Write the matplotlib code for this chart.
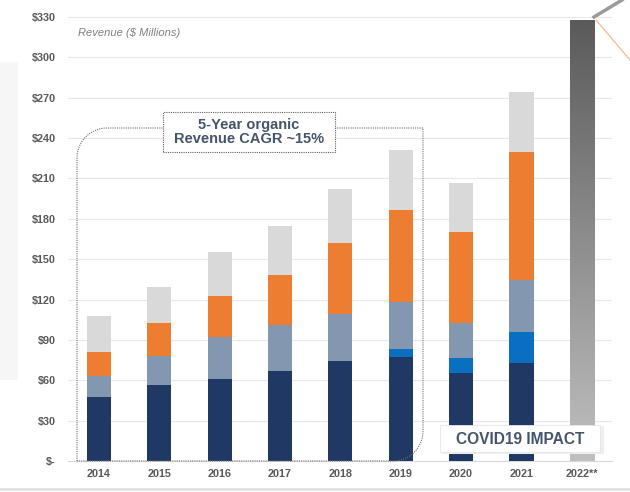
import numpy as np
import math
import matplotlib
matplotlib.use("Agg")
import matplotlib.pyplot as plt
from matplotlib.patches import Rectangle
from matplotlib.lines import Line2D

plt.rcParams['font.family'] = ['Liberation Sans', 'DejaVu Sans']

years = ["2014", "2015", "2016", "2017", "2018", "2019", "2020", "2021", "2022**"]
navy   = [47.8, 56.5, 61.2, 66.9, 74.4, 77.3, 65.6, 72.6, 0]
blue   = [0,    0,    0,    0,    0,    5.9,  11.2, 23.0, 0]
slate  = [15.6, 21.5, 31.0, 34.1, 34.9, 34.8, 25.5, 38.9, 0]
orange = [17.4, 24.3, 30.4, 37.2, 52.7, 68.5, 67.7, 95.2, 0]
lgray  = [27.0, 27.0, 32.7, 36.5, 40.0, 44.5, 36.6, 44.8, 0]
forecast = [0, 0, 0, 0, 0, 0, 0, 0, 327.8]

yticks = [0, 30, 60, 90, 120, 150, 180, 210, 240, 270, 300, 330]
ytick_labels = ["$-", "$30", "$60", "$90", "$120", "$150", "$180", "$210", "$240", "$270", "$300", "$330"]

C_NAVY = "#203864"
C_BLUE = "#0b6fc1"
C_SLATE = "#8497b0"
C_ORANGE = "#ed7d31"
C_LGRAY = "#d9d9d9"

fig = plt.figure(figsize=(6.3, 4.92), dpi=100)
fig.patch.set_facecolor("white")

# background decoration (screenshot card)
fig.patches.append(Rectangle((0, 1 - 380/492), 18/630, (380-62)/492, transform=fig.transFigure,
                             facecolor="#f6f6f6", edgecolor="none", zorder=0))
fig.lines.append(Line2D([0, 1], [1 - 489/492, 1 - 489/492], transform=fig.transFigure,
                        color="#e2e2e2", lw=2, zorder=0))
fig.lines.append(Line2D([594/630, 622/630], [1 - 17/492, 1.0], transform=fig.transFigure,
                        color="#9a9a9a", lw=2.5, zorder=5))
fig.lines.append(Line2D([596/630, 630/630], [1 - 20/492, 1 - 60/492], transform=fig.transFigure,
                        color="#f4b183", lw=0.8, zorder=5))

ax = fig.add_axes([68/630, 1 - 461/492, (612-68)/630, (461-17)/492])
ax.set_facecolor("white")
x = np.arange(len(years))
w = 0.4

b = np.zeros(len(years))
for vals, col in [(navy, C_NAVY), (blue, C_BLUE), (slate, C_SLATE), (orange, C_ORANGE), (lgray, C_LGRAY)]:
    v = np.array(vals)
    ax.bar(x, v, w, bottom=b, color=col, edgecolor="none", zorder=3)
    b = b + v

# 2022 gradient bar
fb = ax.bar(x, forecast, w, color="none", edgecolor="none", zorder=3)
i = len(years) - 1
grad = np.linspace(0, 1, 256).reshape(-1, 1)
cmap = matplotlib.colors.LinearSegmentedColormap.from_list("g", ["#c0c0c0", "#5a5a5a"])
im = ax.imshow(grad, extent=[x[i] - w/2, x[i] + w/2, 0, forecast[i]], origin="lower",
               cmap=cmap, aspect="auto", zorder=3)
im.set_clip_path(fb[i])

ax.set_xlim(-0.513, 8.5)
ax.set_ylim(0, 330)
ax.set_yticks(yticks)
ax.set_yticklabels(ytick_labels)
ax.set_xticks(x)
ax.set_xticklabels(years)
ax.tick_params(axis="both", length=0, labelsize=7.8, labelcolor="#595959")
for lab in ax.get_xticklabels() + ax.get_yticklabels():
    lab.set_fontweight("bold")
ax.tick_params(axis="y", pad=9)
ax.tick_params(axis="x", pad=6)
ax.grid(axis="y", color="#e8e8e8", lw=0.8, zorder=0)
for s in ["top", "right", "left"]:
    ax.spines[s].set_visible(False)
ax.spines["bottom"].set_color("#d9d9d9")

ax.text(0.018, 0.965, "Revenue ($ Millions)", transform=ax.transAxes, style="italic",
        fontsize=8, color="#7f7f7f", va="center", ha="left")

def px2data(px, py):
    return ax.transData.inverted().transform(fig.transFigure.transform((px/630, 1 - py/492)))

# dotted bracket around 2014-2019
pts_px = [(77, 461), (77, 128 + 30)]
r = 30
for t in np.linspace(math.pi, 1.5*math.pi, 20):
    pts_px.append((77 + r + r*math.cos(t), 128 + r + r*math.sin(t)))
pts_px.append((163, 128))
xs, ys = zip(*[px2data(p[0], p[1]) for p in pts_px])
ax.plot(xs, ys, ls=(0, (1, 1)), color="#707070", lw=0.8, zorder=4, clip_on=False)

pts_px = [(335, 128), (423, 128), (423, 431)]
r2 = 30
for t in np.linspace(0, 0.5*math.pi, 20):
    pts_px.append((423 - r2 + r2*math.cos(t), 431 + r2*math.sin(t)))
pts_px.append((77, 461))
xs, ys = zip(*[px2data(p[0], p[1]) for p in pts_px])
ax.plot(xs, ys, ls=(0, (1, 1)), color="#707070", lw=0.8, zorder=4, clip_on=False)

# CAGR box
fig.patches.append(Rectangle((163/630, 1 - 152/492), (335-163)/630, 40/492, transform=fig.transFigure,
                             facecolor="white", edgecolor="#606060", lw=0.8, ls=(0, (1, 1)), zorder=6))
fig.text(249/630, 1 - 132/492, "5-Year organic\nRevenue CAGR ~15%", ha="center", va="center",
         fontsize=10.5, fontweight="bold", color="#44546a", linespacing=0.92, zorder=7)

# COVID box
fig.patches.append(Rectangle((442/630, 1 - 454/492), 162/630, 28/492, transform=fig.transFigure,
                             facecolor="#eeeeee", edgecolor="none", zorder=6))
fig.patches.append(Rectangle((440/630, 1 - 452/492), 160/630, 27/492, transform=fig.transFigure,
                             facecolor="white", edgecolor="#e6e6e6", lw=0.6, zorder=6))
fig.text(520/630, 1 - 439/492, "COVID19 IMPACT", ha="center", va="center",
         fontsize=11.2, fontweight="bold", color="#44546a", zorder=7)

fig.savefig("out.png", dpi=100)
